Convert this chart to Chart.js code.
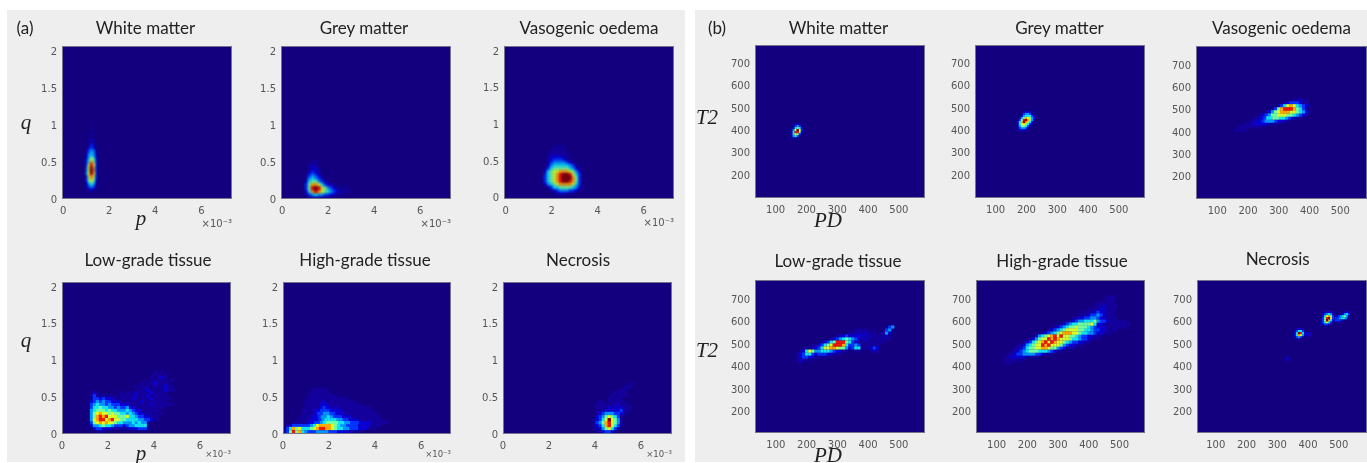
<!DOCTYPE html>
<html>
<head>
<meta charset="utf-8">
<script src="https://cdn.jsdelivr.net/npm/chart.js@4/dist/chart.umd.min.js"></script>
<style>
    html, body { margin: 0; background: #fff; overflow: hidden; width: 1367px; height: 463px; }
    #page { position: absolute; left: 0; top: 0; width: 1367px; height: 463px; overflow: hidden; filter: blur(0.35px); }
    .sheet { position: absolute; background: #eeeeee; }
    canvas { position: absolute; }
    .label { position: absolute; transform: translate(-50%, -50%); white-space: nowrap; }
    .title { font: 17px Lato, sans-serif; color: #222; }
    .tag { font: 17px Lato, sans-serif; color: #222; }
    .symbol { font: italic 21px "Liberation Serif", serif; color: #222; }
    .exponent { font: 10px "DejaVu Sans", sans-serif; color: #555; transform: translate(-100%, -50%); }
    .exponent.small { font-size: 8.5px; }
</style>
</head>
<body>
<div id="page"></div>
<script>
// axis ticks
const pTicks = [0, 2, 4, 6];
const qTicks = [0, 0.5, 1, 1.5, 2];
const pdTicks = [100, 200, 300, 400, 500];
const t2Ticks = [200, 300, 400, 500, 600, 700];

const tissueNames = ["White matter", "Grey matter", "Vasogenic oedema", "Low-grade tissue", "High-grade tissue", "Necrosis"];

// Every row below is [y value, x value of first cell, then density levels 1-10 along x].
// Levels.
const whiteMatterPQ = [
    [1.05, 1.23, 1], [0.96, 1.23, 1, 1], [0.88, 1.14, 1, 1, 1], [0.8, 1.14, 1, 2, 1], [0.75, 1.14, 1, 2, 1],
    [0.72, 1.14, 1, 3, 2], [0.69, 1.14, 2, 3, 2, 1],
    [0.66, 1.05, 1, 3, 4, 3, 1], [0.64, 1.05, 1, 3, 4, 4, 1], [0.61, 1.05, 2, 4, 5, 4, 2], [0.58, 1.05, 2, 4, 5, 4, 2],
    [0.555, 1.05, 2, 4, 6, 5, 2], [0.53, 1.05, 3, 5, 7, 6, 3], [0.5, 1.05, 3, 5, 8, 6, 3], [0.47, 1.05, 3, 6, 9, 7, 3],
    [0.45, 1.05, 3, 7, 9, 7, 3], [0.42, 1.05, 4, 7, 10, 8, 3], [0.39, 1.05, 4, 7, 10, 8, 3], [0.36, 1.05, 4, 7, 10, 8, 3],
    [0.34, 1.05, 4, 7, 9, 7, 3], [0.31, 1.05, 3, 7, 8, 7, 3], [0.28, 1.05, 3, 6, 8, 6, 3], [0.255, 1.05, 3, 6, 7, 6, 2],
    [0.23, 1.05, 2, 5, 6, 5, 2], [0.2, 1.05, 2, 4, 5, 4, 1], [0.17, 1.05, 1, 3, 4, 3, 1], [0.146, 1.05, 1, 2, 2, 2], [0.12, 1.14, 1, 1, 1]
];
const greyMatterPQ = [
    [0.51, 1.33, 1, 1], [0.47, 1.2, 1, 1, 1], [0.43, 1.2, 1, 2, 1, 1], [0.39, 1.2, 1, 2, 2, 1], [0.35, 1.2, 2, 3, 2, 1],
    [0.31, 1.07, 1, 3, 4, 3, 2, 1], [0.27, 1.07, 1, 4, 5, 4, 3, 1, 1], [0.23, 1.07, 2, 5, 6, 6, 4, 3, 1, 1],
    [0.19, 1.07, 3, 6, 8, 8, 7, 5, 3, 2, 1, 1], [0.146, 1.07, 3, 6, 9, 10, 9, 7, 6, 4, 3, 2, 1, 1, 1, 1],
    [0.105, 1.07, 2, 5, 8, 9, 8, 7, 6, 5, 4, 3, 2, 1, 1, 1, 1], [0.065, 1.07, 1, 3, 4, 5, 4, 4, 3, 3, 2, 2, 1, 1, 1],
    [0.02, 1.2, 1, 1, 2, 1, 1, 1]
];
const oedemaPQ = [
    [0.68, 2.14, 1, 1, 1, 1], [0.64, 2.01, 1, 1, 1, 1, 1], [0.6, 1.88, 1, 1, 1, 1, 1, 1, 1], [0.555, 1.88, 1, 2, 2, 2, 2, 1, 1, 1],
    [0.51, 1.88, 1, 2, 3, 3, 3, 2, 1, 1], [0.47, 1.88, 1, 3, 4, 4, 4, 4, 3, 2, 1],
    [0.43, 1.88, 2, 4, 5, 5, 5, 5, 5, 4, 3, 1], [0.39, 1.75, 1, 3, 5, 6, 6, 6, 6, 6, 5, 4, 2, 1],
    [0.35, 1.75, 2, 5, 6, 7, 7, 8, 8, 8, 7, 6, 4, 2], [0.31, 1.75, 3, 5, 6, 7, 8, 9, 10, 10, 9, 7, 5, 3],
    [0.27, 1.75, 3, 5, 6, 7, 8, 9, 10, 10, 10, 8, 6, 3], [0.23, 1.75, 3, 5, 6, 7, 8, 9, 10, 10, 9, 8, 6, 3],
    [0.19, 1.75, 2, 4, 5, 6, 7, 8, 8, 8, 8, 7, 5, 3], [0.145, 1.88, 1, 3, 5, 5, 6, 6, 6, 6, 5, 4, 2, 1],
    [0.105, 2.01, 1, 2, 3, 4, 4, 4, 3, 3, 2, 1], [0.065, 2.14, 1, 1, 2, 2, 1, 1, 1]
];
const lowGradePQ = [
    [0.85, 4.1, 1, 0, 1], [0.81, 4.0, 1, 1, 1, 0, 1], [0.77, 3.9, 1, 0, 1, 2, 1, 1], [0.73, 3.6, 1, 0, 1, 1, 1, 1, 1, 1, 0, 1],
    [0.69, 3.4, 1, 1, 0, 1, 1, 2, 1, 1, 1, 1], [0.645, 3.2, 1, 0, 1, 1, 1, 0, 1, 1, 1, 1, 2, 1, 1],
    [0.6, 3.2, 0, 1, 1, 1, 2, 1, 1, 1, 0, 1, 2, 1, 1, 1],
    [0.56, 1.41, 2, 1, 0, 0, 0, 0, 0, 0, 0, 1, 0, 1, 1, 1, 2, 1, 1, 1, 1, 2, 1, 1, 1, 1, 1],
    [0.52, 1.28, 1, 3, 1, 1, 1, 1, 1, 0, 1, 0, 1, 1, 1, 1, 1, 2, 1, 1, 1, 2, 1, 1, 1, 1, 1, 1],
    [0.48, 1.28, 1, 3, 3, 2, 3, 2, 2, 2, 1, 1, 1, 1, 1, 1, 2, 1, 1, 1, 1, 1, 2, 1, 1, 1, 1, 1, 1],
    [0.44, 1.28, 2, 3, 4, 3, 4, 3, 3, 2, 2, 2, 1, 1, 1, 1, 1, 1, 1, 2, 1, 1, 1, 1, 1, 1, 1, 1],
    [0.4, 1.28, 3, 4, 5, 4, 4, 3, 4, 3, 3, 3, 2, 2, 2, 1, 1, 1, 1, 1, 1, 1, 2, 1, 1, 1, 1, 1, 1, 1],
    [0.36, 1.28, 3, 5, 5, 6, 5, 5, 4, 4, 3, 4, 3, 3, 4, 2, 2, 1, 1, 1, 1, 1, 1, 1, 1, 1, 1],
    [0.32, 1.28, 4, 5, 6, 6, 6, 5, 6, 5, 5, 4, 4, 4, 5, 4, 3, 2, 2, 1, 1, 1, 1, 1, 1],
    [0.28, 1.28, 4, 6, 7, 8, 7, 7, 6, 7, 6, 6, 5, 5, 4, 5, 4, 3, 2, 2, 1, 1, 1, 1, 1, 1],
    [0.24, 1.28, 4, 6, 8, 9, 8, 9, 7, 7, 7, 6, 6, 6, 7, 5, 5, 4, 3, 3, 2, 2, 1, 1, 1],
    [0.195, 1.28, 4, 7, 8, 9, 9, 7, 8, 9, 7, 7, 6, 6, 5, 5, 5, 5, 4, 4, 3, 3, 2, 1, 1],
    [0.155, 1.28, 3, 6, 7, 8, 7, 8, 7, 7, 6, 5, 5, 4, 4, 4, 5, 4, 5, 4, 4, 1],
    [0.115, 1.28, 2, 4, 4, 5, 6, 5, 5, 4, 3, 3, 3, 2, 3, 4, 4, 5, 5, 5, 5, 1],
    [0.075, 1.41, 2, 3, 3, 2, 2, 2, 1, 1, 1, 1, 1, 1, 2, 2, 2, 3, 3, 3, 1],
    [0.03, 1.54, 1, 1, 1]
];
const highGradePQ = [
    [0.605, 1.3, 1, 1, 1, 1, 1], [0.565, 1.2, 1, 1, 1, 1, 1, 1, 1], [0.52, 1.1, 1, 1, 1, 1, 1, 1, 1, 1, 1, 1],
    [0.48, 1.1, 1, 1, 1, 1, 1, 1, 1, 1, 1, 1, 1, 1, 1, 1], [0.44, 1.0, 1, 1, 1, 1, 1, 1, 2, 1, 1, 1, 1, 1, 1, 1, 1, 1, 1],
    [0.4, 1.0, 1, 1, 1, 1, 1, 2, 2, 2, 1, 1, 1, 1, 1, 1, 1, 1, 1, 1, 1],
    [0.36, 1.0, 1, 1, 1, 1, 1, 2, 3, 2, 2, 1, 2, 1, 1, 1, 1, 1, 1, 1, 1, 1, 1, 1],
    [0.32, 0.9, 1, 1, 1, 1, 2, 2, 3, 3, 3, 2, 2, 2, 2, 1, 1, 1, 1, 1, 1, 1, 1, 1, 1, 1],
    [0.28, 0.9, 1, 1, 1, 1, 2, 3, 3, 4, 4, 3, 3, 2, 2, 2, 1, 1, 1, 1, 1, 1, 1, 1, 1, 1, 1],
    [0.235, 0.8, 1, 1, 1, 1, 2, 2, 3, 4, 4, 5, 4, 3, 3, 3, 2, 2, 2, 1, 1, 1, 1, 1, 1, 1, 1, 1, 1],
    [0.195, 0.7, 1, 1, 1, 1, 2, 2, 2, 3, 4, 5, 5, 5, 5, 4, 4, 3, 3, 2, 2, 2, 1, 1, 1, 1, 1, 1, 1, 1, 1],
    [0.155, 0.5, 1, 1, 1, 1, 1, 2, 2, 3, 3, 4, 5, 6, 6, 6, 6, 5, 5, 4, 4, 3, 3, 3, 2, 2, 2, 2, 1, 1, 1, 1, 1, 1],
    [0.115, 0.2, 1, 2, 3, 3, 3, 3, 3, 3, 4, 5, 7, 8, 8, 8, 8, 7, 6, 5, 4, 4, 3, 3, 3, 3, 2, 2, 2, 2, 1, 1, 1, 1],
    [0.075, 0.2, 3, 5, 8, 6, 7, 5, 5, 5, 6, 7, 8, 9, 9, 8, 8, 7, 6, 5, 5, 4, 4, 3, 3, 3, 2, 2, 2, 1, 1, 1],
    [0.03, 0.2, 3, 6, 9, 6, 8, 5, 4, 3, 3, 3, 4, 4, 4, 4, 3, 3, 3, 2, 2, 2, 2, 1, 1, 1, 1]
];
const necrosisPQ = [
    [0.685, 5.5, 1], [0.645, 5.3, 1, 1, 1], [0.605, 5.1, 1, 1, 1], [0.565, 4.9, 1, 1, 1, 1], [0.52, 4.7, 1, 1, 0, 1, 1, 1],
    [0.48, 4.6, 1, 1, 1, 1, 1], [0.44, 4.2, 1, 1, 0, 1, 1, 1, 1, 1, 1], [0.4, 4.1, 1, 1, 1, 1, 1, 1, 1, 2, 1, 1, 1],
    [0.36, 4.1, 1, 1, 1, 1, 2, 1, 2, 1, 2, 1, 1, 1], [0.32, 4.1, 1, 1, 1, 2, 2, 2, 2, 2, 3, 1, 1, 1],
    [0.28, 4.1, 1, 2, 3, 4, 4, 4, 3, 3, 2, 1], [0.235, 4.1, 2, 3, 4, 6, 7, 6, 5, 3, 1], [0.195, 3.97, 1, 2, 3, 5, 7, 10, 7, 6, 4, 1],
    [0.155, 3.97, 1, 3, 4, 6, 8, 9, 7, 6, 4, 1], [0.115, 3.97, 1, 2, 3, 5, 8, 9, 7, 5, 3, 1], [0.075, 3.97, 1, 1, 2, 4, 6, 7, 5, 3, 1],
    [0.03, 4.1, 1, 1, 2, 3, 3, 2, 1]
];

const whiteMatterPD = [
    [428, 165, 1, 2, 1], [419, 158.5, 1, 3, 4, 3, 1], [410, 158.5, 2, 5, 6, 5, 2], [401, 152, 1, 4, 7, 10, 7, 3],
    [392, 152, 2, 5, 9, 9, 6, 2], [383, 152, 2, 5, 7, 6, 3], [374, 152, 1, 4, 5, 3, 1], [365, 152, 1, 2, 1]
];
const greyMatterPD = [
    [482, 192, 1, 2, 2, 1], [473, 185.5, 1, 3, 4, 4, 3, 1], [464, 185.5, 2, 4, 5, 5, 5, 3, 1], [455, 179, 1, 4, 6, 8, 7, 6, 4, 2],
    [446, 172.5, 1, 3, 6, 9, 10, 8, 6, 4, 1], [437, 172.5, 2, 5, 8, 10, 8, 6, 5, 2], [428, 172.5, 2, 5, 7, 7, 6, 5, 2, 1],
    [419, 172.5, 2, 4, 6, 6, 5, 3, 1], [410, 172.5, 1, 3, 4, 4, 3, 1], [401, 172.5, 1, 2, 2, 2, 1]
];
const oedemaPD = [
    [543, 350, 1, 1, 2, 1, 1], [530, 320, 1, 2, 3, 3, 3, 2, 1, 1], [517, 300, 1, 3, 5, 7, 8, 7, 5, 4, 3, 2, 1],
    [503, 280, 1, 3, 6, 8, 9, 9, 9, 8, 6, 5, 3, 1], [490, 260, 1, 2, 4, 6, 7, 8, 8, 8, 7, 7, 6, 5, 4, 2, 1],
    [476, 240, 1, 2, 3, 4, 6, 6, 7, 7, 7, 6, 6, 5, 4, 3, 2, 1], [463, 225, 1, 1, 2, 3, 5, 5, 6, 6, 5, 5, 4, 3, 2, 1, 1],
    [449, 210, 1, 1, 2, 2, 3, 4, 4, 4, 3, 2, 2, 1, 1], [436, 190, 1, 1, 1, 2, 2, 2, 2, 2, 1, 1, 1],
    [423, 170, 1, 1, 1, 1, 1, 1, 1, 1], [409, 160, 1, 1, 1, 1]
];
const lowGradePD = [
    [576, 470, 3, 4], [563, 360, 1, 1, 1, 1, 1, 0, 1, 0, 0, 0, 3, 4, 1],
    [549, 340, 1, 1, 1, 2, 1, 2, 1, 1, 1, 0, 1, 1, 4, 2],
    [536, 300, 1, 2, 2, 3, 2, 2, 2, 2, 2, 1, 2, 1, 1, 1, 1, 1, 2],
    [523, 280, 1, 2, 3, 4, 5, 6, 5, 4, 3, 2, 1, 2, 1, 1, 1, 1, 1, 1, 1, 1],
    [509, 250, 1, 2, 3, 5, 6, 9, 9, 9, 6, 5, 3, 2, 1, 1, 1, 1, 1, 1, 1, 1, 1],
    [496, 220, 1, 1, 2, 3, 5, 6, 7, 9, 9, 9, 8, 5, 3, 3, 4, 3, 1, 1, 1, 1, 1, 1],
    [483, 200, 1, 1, 1, 2, 3, 5, 7, 7, 8, 8, 7, 6, 6, 4, 2, 3, 5, 5, 1, 1, 1, 2, 3, 2],
    [469, 180, 1, 2, 5, 7, 6, 4, 4, 5, 5, 5, 4, 3, 2, 2, 1, 1, 0, 0, 1, 1, 0, 0, 0, 1, 2, 1],
    [456, 170, 1, 2, 3, 5, 5, 3, 2, 3, 3, 3, 2, 2, 1, 1, 1], [443, 170, 1, 2, 3, 3, 2, 2, 1, 1, 1, 1],
    [429, 170, 1, 2, 1, 1, 1], [416, 180, 1]
];
const highGradePD = [
    [709, 460, 1, 1, 1], [696, 450, 1, 1, 1, 1], [682, 430, 1, 1, 1, 1, 1, 1], [669, 420, 1, 1, 1, 2, 1, 1, 1, 1],
    [656, 400, 1, 1, 1, 1, 2, 2, 1, 1, 1], [642, 380, 1, 1, 1, 1, 2, 3, 2, 2, 1, 1, 1], [629, 370, 1, 1, 1, 2, 3, 3, 4, 3, 2, 1, 1, 1],
    [616, 350, 1, 1, 2, 2, 3, 3, 4, 4, 3, 2, 2, 1, 1, 1, 1],
    [602, 330, 1, 1, 2, 3, 4, 4, 5, 5, 5, 6, 4, 3, 3, 2, 1, 1, 1, 1, 1, 1],
    [589, 310, 1, 2, 3, 4, 5, 5, 6, 6, 6, 6, 7, 5, 2, 2, 1, 1, 1, 1, 1, 1, 1, 1, 1],
    [576, 290, 1, 2, 3, 4, 5, 6, 6, 7, 6, 6, 6, 5, 4, 3, 2, 2, 2, 1, 1, 1, 1, 1, 1, 1],
    [563, 270, 1, 2, 3, 4, 5, 6, 7, 7, 7, 7, 6, 6, 5, 5, 4, 3, 3, 2, 2, 1, 1, 1, 1],
    [549, 250, 1, 2, 3, 4, 5, 6, 7, 8, 8, 8, 7, 7, 6, 5, 5, 4, 4, 3, 2, 2, 1, 1, 1],
    [536, 230, 2, 4, 5, 6, 7, 8, 9, 7, 9, 7, 7, 6, 6, 5, 4, 3, 3, 2, 2, 1, 1, 1],
    [523, 210, 1, 2, 4, 6, 7, 7, 9, 8, 9, 8, 7, 7, 7, 6, 5, 5, 4, 3, 3, 2, 1, 1, 1],
    [509, 190, 1, 2, 3, 5, 6, 7, 8, 9, 7, 9, 8, 7, 7, 6, 5, 4, 3, 3, 2, 2, 1, 1],
    [496, 170, 1, 1, 2, 4, 5, 6, 7, 7, 9, 8, 9, 7, 7, 7, 6, 4, 3, 2, 2, 1, 1, 1],
    [483, 160, 1, 1, 2, 3, 5, 6, 6, 7, 7, 8, 8, 7, 6, 6, 4, 3, 2, 1, 1, 1],
    [469, 150, 1, 1, 2, 3, 4, 5, 6, 6, 6, 5, 5, 5, 4, 3, 2, 1, 1],
    [456, 140, 1, 1, 2, 3, 3, 4, 4, 4, 4, 3, 3, 2, 1, 1, 1],
    [443, 130, 1, 1, 2, 2, 2, 2, 2, 1, 1, 1, 1], [429, 130, 1, 1, 1, 1, 1, 1], [416, 130, 1, 1]
];
const necrosisPD = [
    [567, 364, 1, 2, 2, 1], [558, 357.5, 1, 3, 5, 5, 3, 1], [549, 357.5, 2, 5, 10, 9, 5, 2], [540, 357.5, 2, 5, 8, 7, 4, 1],
    [531, 357.5, 1, 3, 4, 3, 1], [522, 364, 1, 1],
    [549, 391, 1, 2, 2, 1], [540, 391, 1, 2, 2, 1], [531, 398, 1, 1],
    [642, 455, 1, 2, 2, 2, 1], [633, 449, 1, 3, 4, 5, 4, 2], [624, 449, 2, 5, 7, 8, 6, 3, 1], [615, 449, 3, 6, 9, 10, 7, 3, 1],
    [606, 449, 3, 6, 10, 8, 5, 2, 1], [597, 442, 1, 3, 5, 7, 5, 3, 1], [588, 442, 1, 2, 3, 3, 2, 1],
    [642, 520, 1, 2, 2], [633, 507, 1, 2, 4, 5, 3], [624, 494, 2, 3, 4, 5, 6, 4, 1], [615, 484, 2, 3, 3, 4, 5, 5, 4, 1],
    [606, 484, 2, 3, 3, 3, 2, 1], [597, 490, 1, 1, 1],
    [443, 328, 1, 1], [434, 328, 1, 2, 1], [425, 328, 1, 1]
];

// density level -> jet colour, 0 is the plot background
const jetColors = ["#13007e", "#14009c", "#0a00d4", "#0034ff", "#0094ff", "#10e4f0", "#70ffa0", "#d8ff28", "#ffa800", "#f01800", "#860000"];

// box: left, top, width, height of the plot in px. xr/yr: axis ranges. step: cell spacing in data units.
// radius: point radius of a cell, blur: how much the cells are smeared.
const panels = [
    { rows: whiteMatterPQ, box: [62, 46, 170, 153], xr: [-0.05, 7.33], yr: [0, 2.08], step: 0.087, radius: 1.9, blur: 0.8, xt: pTicks, yt: qTicks },
    { rows: greyMatterPQ, box: [281, 46, 170, 153], xr: [-0.05, 7.34], yr: [0, 2.08], step: 0.13, radius: 2.6, blur: 0.9, xt: pTicks, yt: qTicks },
    { rows: oedemaPQ, box: [504, 46, 170, 153], xr: [-0.07, 7.32], yr: [-0.02, 2.07], step: 0.13, radius: 2.6, blur: 1.1, xt: pTicks, yt: qTicks },
    { rows: lowGradePQ, box: [62, 282, 169, 152], xr: [0, 7.35], yr: [0, 2.07], step: 0.13, radius: 2.3, blur: 0.5, xt: pTicks, yt: qTicks },
    { rows: highGradePQ, box: [283, 282, 168, 152], xr: [0, 7.3], yr: [0, 2.07], step: 0.13, radius: 2.3, blur: 0.6, xt: pTicks, yt: qTicks },
    { rows: necrosisPQ, box: [503, 282, 169, 152], xr: [0, 7.35], yr: [0, 2.07], step: 0.13, radius: 2.3, blur: 0.5, xt: pTicks, yt: qTicks },
    { rows: whiteMatterPD, box: [755, 45, 170, 153], xr: [33, 585], yr: [97, 782], step: 6.5, radius: 1.5, blur: 0.6, xt: pdTicks, yt: t2Ticks },
    { rows: greyMatterPD, box: [975, 45, 170, 153], xr: [33, 585], yr: [97, 782], step: 6.5, radius: 1.6, blur: 0.6, xt: pdTicks, yt: t2Ticks },
    { rows: oedemaPD, box: [1196, 46, 171, 153], xr: [31, 587], yr: [100, 785], step: 10, radius: 2.4, blur: 0.7, xt: pdTicks, yt: t2Ticks },
    { rows: lowGradePD, box: [755, 280, 170, 153], xr: [32, 585], yr: [105, 785], step: 10, radius: 2.2, blur: 0.5, xt: pdTicks, yt: t2Ticks },
    { rows: highGradePD, box: [976, 280, 169, 153], xr: [33, 583], yr: [105, 785], step: 10, radius: 2.3, blur: 0.5, xt: pdTicks, yt: t2Ticks },
    { rows: necrosisPD, box: [1197, 280, 170, 153], xr: [39, 592], yr: [105, 785], step: 6.5, radius: 1.5, blur: 0.5, xt: pdTicks, yt: t2Ticks }
];

// centre x, centre y of each panel title, same order as panels
const titleSpots = [
    [145.5, 27], [364, 27], [589, 27], [148, 259], [365, 259], [578, 259],
    [838.5, 27], [1059.5, 27], [1281.5, 27], [838, 260], [1062, 260], [1277.7, 257.7]
];

const page = document.getElementById("page");

function addSheet(x, y, w, h) {
    const d = document.createElement("div");
    d.className = "sheet";
    d.style.cssText = "left:" + x + "px;top:" + y + "px;width:" + w + "px;height:" + h + "px";
    page.appendChild(d);
}

function addLabel(text, x, y, cls) {
    const d = document.createElement("div");
    d.className = "label " + cls;
    d.textContent = text;
    d.style.left = x + "px";
    d.style.top = y + "px";
    page.appendChild(d);
}

// turn the rows of a panel into points, low levels first so the peaks stay on top
function rowsToPoints(rows, step) {
    const points = [];
    rows.forEach((row) => {
        row.slice(2).forEach((level, i) => {
            if (level > 0) {
                points.push({ x: row[1] + i * step, y: row[0], level: level });
            }
        });
    });
    return points.sort((a, b) => a.level - b.level);
}

function plotFrame(blur) {
    return {
        id: "plotFrame",
        beforeDatasetsDraw(chart) {
            const a = chart.chartArea;
            const ctx = chart.ctx;
            ctx.save();
            ctx.fillStyle = jetColors[0];
            ctx.fillRect(a.left, a.top, a.width, a.height);
            ctx.restore();
            ctx.save();
            ctx.filter = "blur(" + blur + "px)";
        },
        afterDatasetsDraw(chart) {
            const a = chart.chartArea;
            const ctx = chart.ctx;
            ctx.restore();
            ctx.save();
            ctx.strokeStyle = "#74748c";
            ctx.lineWidth = 1;
            ctx.strokeRect(a.left + 0.5, a.top + 0.5, a.width - 1, a.height - 1);
            ctx.restore();
        }
    };
}

function axisOptions(range, ticks, side) {
    return {
        type: "linear",
        min: range[0],
        max: range[1],
        grid: { display: false, drawTicks: false },
        border: { display: false },
        afterBuildTicks(scale) {
            scale.ticks = ticks.map((v) => ({ value: v }));
        },
        afterFit(scale) {
            if (side === "x") {
                scale.height = 24;
            } else {
                scale.width = 44;
            }
        },
        ticks: {
            autoSkip: false,
            maxRotation: 0,
            padding: side === "x" ? 6 : 5,
            labelOffset: side === "x" ? 0 : 1,
            color: "#555",
            font: { family: "DejaVu Sans", size: 10 },
            callback: (v) => String(v)
        }
    };
}

function drawPanel(panel) {
    const [left, top, w, h] = panel.box;
    const canvas = document.createElement("canvas");
    canvas.width = w + 52;
    canvas.height = h + 38;
    canvas.style.left = left - 44 + "px";
    canvas.style.top = top - 14 + "px";
    page.appendChild(canvas);

    const points = rowsToPoints(panel.rows, panel.step);
    new Chart(canvas.getContext("2d"), {
        type: "scatter",
        data: {
            datasets: [{
                data: points,
                pointStyle: "rect",
                pointRadius: panel.radius,
                pointBorderWidth: 0,
                backgroundColor: points.map((pt) => jetColors[pt.level])
            }]
        },
        options: {
            responsive: false,
            animation: false,
            devicePixelRatio: 1,
            // the top padding has to be bigger than the room the y scale asks for its top label
            layout: { padding: { top: 14, right: 8, left: 0, bottom: 0 } },
            plugins: { legend: { display: false }, tooltip: { enabled: false } },
            scales: {
                x: axisOptions(panel.xr, panel.xt, "x"),
                y: axisOptions(panel.yr, panel.yt, "y")
            }
        },
        plugins: [plotFrame(panel.blur)]
    });
}

addSheet(7, 10, 678, 452);
addSheet(695, 10, 672, 452);

panels.forEach(drawPanel);

panels.forEach((panel, i) => {
    addLabel(tissueNames[i % 6], titleSpots[i][0], titleSpots[i][1], "title");
});

addLabel("(a)", 25, 27, "tag");
addLabel("(b)", 717, 27, "tag");
addLabel("q", 26, 122, "symbol");
addLabel("q", 26, 340, "symbol");
addLabel("p", 141, 218, "symbol");
addLabel("p", 141, 453, "symbol");
addLabel("T2", 707, 117, "symbol");
addLabel("T2", 707, 350, "symbol");
addLabel("PD", 828, 220, "symbol");
addLabel("PD", 828, 455, "symbol");

[[232, 223], [451, 223], [674, 222]].forEach((spot) => {
    addLabel("×10⁻³", spot[0], spot[1], "exponent");
});
[[231, 454], [451, 454], [672, 454]].forEach((spot) => {
    addLabel("×10⁻³", spot[0], spot[1], "exponent small");
});
</script>
</body>
</html>
